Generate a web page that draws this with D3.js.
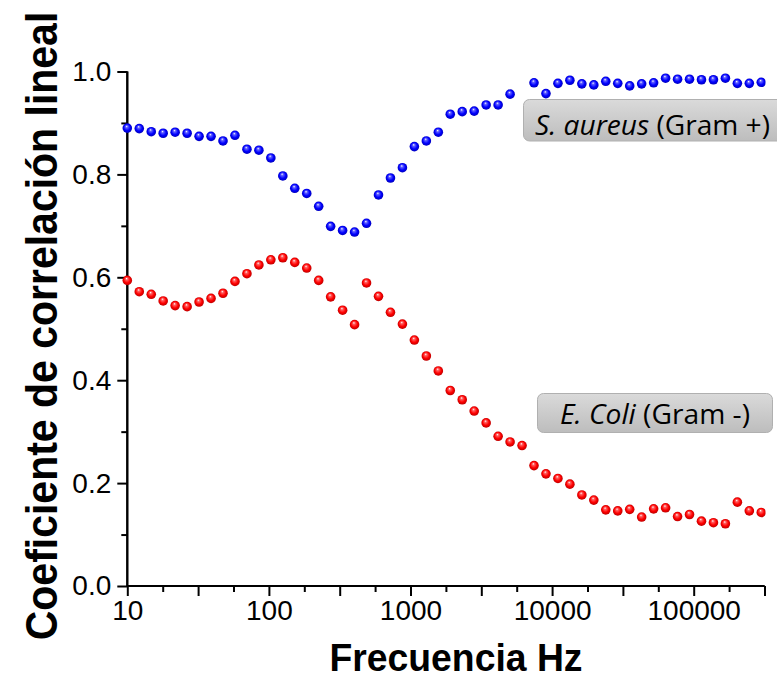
<!DOCTYPE html>
<html>
<head>
<meta charset="utf-8">
<script src="https://cdn.jsdelivr.net/npm/d3@7"></script>
<style>
  body { margin: 0; background: #fff; }
  svg { display: block; }
  .tick text { font-family: "Liberation Sans", Arial, sans-serif; font-size: 28px; fill: #000; }
  .box-label { font-family: "Open Sans", "Noto Sans", sans-serif; font-size: 28px; fill: #000; }
  .axis-title { font-family: "Liberation Sans", Arial, sans-serif; font-weight: bold; fill: #000; }
</style>
</head>
<body>
<div id="chart"></div>
<script>
// frequency (Hz), 54 log-spaced points from 10 Hz to 300 kHz
var freq = [10, 12.15, 14.76, 17.92, 21.77, 26.45, 32.13, 39.03, 47.41, 57.59,
            69.96, 84.98, 103.2, 125.4, 152.3, 185.0, 224.7, 272.9, 331.5, 402.7,
            489.2, 594.3, 721.9, 876.9, 1065, 1294, 1572, 1909, 2319, 2817,
            3422, 4157, 5050, 6134, 7451, 9051, 10994, 13355, 16223, 19706,
            23938, 29078, 35322, 42906, 52120, 63311, 76905, 93419, 113478, 137845,
            167443, 203397, 247071, 300000];

// S. aureus (Gram +)
var aureus = [0.890, 0.889, 0.883, 0.880, 0.882, 0.880, 0.874, 0.874, 0.865, 0.876,
              0.849, 0.847, 0.832, 0.797, 0.773, 0.763, 0.738, 0.699, 0.691, 0.688,
              0.705, 0.760, 0.793, 0.813, 0.854, 0.865, 0.882, 0.917, 0.922, 0.923,
              0.935, 0.935, 0.956, null, 0.978, 0.957, 0.977, 0.983, 0.976, 0.974,
              0.981, 0.977, 0.972, 0.976, 0.978, 0.987, 0.985, 0.985, 0.984, 0.984,
              0.987, 0.977, 0.977, 0.979];

// E. Coli (Gram -)
var coli = [0.594, 0.572, 0.567, 0.554, 0.545, 0.543, 0.552, 0.559, 0.569, 0.592,
            0.607, 0.624, 0.634, 0.638, 0.629, 0.618, 0.594, 0.562, 0.536, 0.508,
            0.589, 0.563, 0.532, 0.509, 0.478, 0.447, 0.418, 0.380, 0.362, 0.340,
            0.317, 0.291, 0.280, 0.273, 0.234, 0.218, 0.209, 0.198, 0.177, 0.167,
            0.148, 0.146, 0.149, 0.134, 0.150, 0.152, 0.135, 0.139, 0.126, 0.123,
            0.121, 0.163, 0.146, 0.143];

var xLabelTicks = [10, 100, 1000, 10000, 100000];
var xHalfTicks = [31.623, 316.23, 3162.3, 31623, 316228];
var xMinorTicks = [17.783, 56.234, 177.83, 562.34, 1778.3, 5623.4, 17783, 56234, 177828];
var yMajorTicks = [0, 0.2, 0.4, 0.6, 0.8, 1.0];
var yMinorTicks = [0.1, 0.3, 0.5, 0.7, 0.9];

var width = 777,
    height = 679;

var x = d3.scaleLog()
          .domain([10, 316228])
          .range([127.3, 764.5]);

var y = d3.scaleLinear()
          .domain([0, 1])
          .range([586, 71.5]);

var svg = d3.select('#chart')
  .append('svg')
    .attr('width', width)
    .attr('height', height);

var defs = svg.append('defs');

// glossy sphere gradients
function sphere(id, light, base, dark) {
  var g = defs.append('radialGradient')
      .attr('id', id)
      .attr('cx', '50%').attr('cy', '50%').attr('r', '55%')
      .attr('fx', '42%').attr('fy', '30%');
  g.append('stop').attr('offset', '0%').attr('stop-color', '#ffffff');
  g.append('stop').attr('offset', '22%').attr('stop-color', light);
  g.append('stop').attr('offset', '60%').attr('stop-color', base);
  g.append('stop').attr('offset', '100%').attr('stop-color', dark);
}
sphere('ball-blue', '#6060ff', '#0000ff', '#0000b0');
sphere('ball-red', '#ff6060', '#ff0000', '#b00000');

var boxGrad = defs.append('linearGradient')
    .attr('id', 'box-grad')
    .attr('x1', 0).attr('y1', 0).attr('x2', 0).attr('y2', 1);
boxGrad.append('stop').attr('offset', '0%').attr('stop-color', '#dadada');
boxGrad.append('stop').attr('offset', '100%').attr('stop-color', '#bdbdbd');

defs.append('clipPath')
    .attr('id', 'plot-clip')
  .append('rect')
    .attr('x', 100).attr('y', 0)
    .attr('width', 665.5).attr('height', 600);

// x axis: minor ticks, then major ticks with labels on decades
svg.append('g')
    .attr('class', 'x-minor')
    .attr('transform', 'translate(0,' + y(0) + ')')
    .call(d3.axisBottom(x).tickValues(xMinorTicks).tickSize(6).tickFormat(''));

svg.append('g')
    .attr('class', 'x-major')
    .attr('transform', 'translate(0,' + y(0) + ')')
    .call(d3.axisBottom(x).tickValues(xLabelTicks.concat(xHalfTicks)).tickSize(10).tickPadding(4)
            .tickFormat(function(d) { return xLabelTicks.indexOf(d) >= 0 ? d3.format('d')(d) : ''; }));

svg.append('g')
    .attr('class', 'y-minor')
    .attr('transform', 'translate(' + x(10) + ',0)')
    .call(d3.axisLeft(y).tickValues(yMinorTicks).tickSize(6).tickFormat(''));

svg.append('g')
    .attr('class', 'y-major')
    .attr('transform', 'translate(' + x(10) + ',0)')
    .call(d3.axisLeft(y).tickValues(yMajorTicks).tickSize(10).tickPadding(6).tickFormat(d3.format('.1f')));

svg.selectAll('.domain')
    .attr('stroke', '#000')
    .attr('stroke-width', 2)
    .attr('d', function() {
      var g = d3.select(this.parentNode);
      return g.classed('x-minor') || g.classed('x-major')
        ? 'M' + x.range()[0] + ',0H' + x.range()[1]
        : 'M0,' + y.range()[0] + 'V' + y.range()[1];
    });
svg.selectAll('.tick line')
    .attr('stroke', '#000')
    .attr('stroke-width', 2);

// label boxes
function labelBox(bx, by, bw, bh, tx, ty, tlen, italicPart, normalPart) {
  var g = svg.append('g').attr('class', 'label-box');
  g.append('rect')
      .attr('x', bx).attr('y', by)
      .attr('width', bw).attr('height', bh)
      .attr('rx', 6).attr('ry', 6)
      .style('fill', 'url(#box-grad)')
      .style('stroke', '#b0b0b0')
      .style('stroke-width', 1);
  var t = g.append('text')
      .attr('class', 'box-label')
      .attr('x', tx).attr('y', ty)
      .attr('textLength', tlen)
      .attr('lengthAdjust', 'spacingAndGlyphs');
  t.append('tspan').style('font-style', 'italic').text(italicPart);
  t.append('tspan').text(normalPart);
}
labelBox(523.5, 99.5, 262, 41.5, 535, 134.5, 235, 'S. aureus', ' (Gram +)');
labelBox(537.5, 393.5, 235, 39, 560, 423.5, 190, 'E. Coli', ' (Gram -)');

// points
var pts = svg.append('g').attr('clip-path', 'url(#plot-clip)');

pts.selectAll('.pt-red')
    .data(freq.map(function(f, i) { return [f, coli[i]]; }).filter(function(d) { return d[1] != null; }))
    .enter()
    .append('circle')
    .attr('class', 'pt-red')
    .attr('cx', function(d) { return x(d[0]); })
    .attr('cy', function(d) { return y(d[1]); })
    .attr('r', 4.8)
    .style('fill', 'url(#ball-red)');

pts.selectAll('.pt-blue')
    .data(freq.map(function(f, i) { return [f, aureus[i]]; }).filter(function(d) { return d[1] != null; }))
    .enter()
    .append('circle')
    .attr('class', 'pt-blue')
    .attr('cx', function(d) { return x(d[0]); })
    .attr('cy', function(d) { return y(d[1]); })
    .attr('r', 4.8)
    .style('fill', 'url(#ball-blue)');

// axis titles
svg.append('text')
    .attr('class', 'axis-title')
    .attr('x', 456)
    .attr('y', 671)
    .attr('text-anchor', 'middle')
    .attr('textLength', 253)
    .attr('lengthAdjust', 'spacingAndGlyphs')
    .style('font-size', '39px')
    .text('Frecuencia Hz');

// rotated title, glyphs stretched a little across the line
svg.append('text')
    .attr('class', 'axis-title')
    .attr('transform', 'translate(57,326) rotate(-90) scale(1,1.1)')
    .attr('text-anchor', 'middle')
    .style('font-size', '41px')
    .text('Coeficiente de correlación lineal');
</script>
</body>
</html>
